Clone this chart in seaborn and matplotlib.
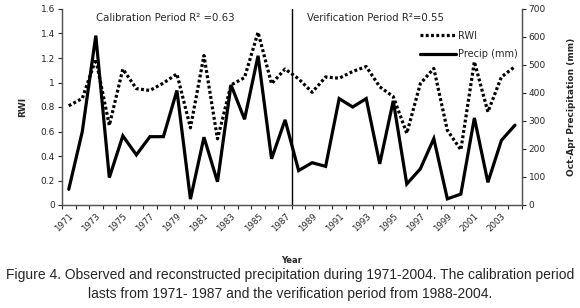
import numpy as np
import pandas as pd
import matplotlib
matplotlib.use("Agg")
import matplotlib.pyplot as plt
import seaborn as sns

years = list(range(1971, 2005))
rwi = [0.81, 0.87, 1.19, 0.65, 1.11, 0.95, 0.935, 0.995, 1.07, 0.63, 1.22, 0.54,
       0.98, 1.04, 1.41, 0.99, 1.11, 1.03, 0.92, 1.045, 1.035, 1.09, 1.13, 0.965,
       0.885, 0.585, 0.99, 1.115, 0.61, 0.45, 1.17, 0.76, 1.045, 1.13]
precip = [56, 262, 605, 98, 247, 179, 244, 244, 409, 21, 242, 83,
          429, 306, 533, 165, 304, 123, 151, 138, 380, 350, 380, 147,
          372, 75, 129, 237, 22, 39, 311, 81, 231, 285]
label_years = list(range(1971, 2005, 2))

df = pd.DataFrame({"Year": years, "RWI": rwi, "Precip": precip})

sns.set_style("white")
plt.rcParams['font.family'] = ['DejaVu Sans']

fig = plt.figure(figsize=(5.8, 3.08), dpi=100)
ax = fig.add_axes([62/580, 1 - 205/308, (521.7-62)/580, (205-9)/308])
ax2 = ax.twinx()

sns.lineplot(data=df, x="Year", y="RWI", ax=ax, color="black", lw=2.3,
             linestyle=(0, (0.9, 0.75)), label="RWI", legend=False)
sns.lineplot(data=df, x="Year", y="Precip", ax=ax2, color="black", lw=2.3,
             label="Precip (mm)", legend=False)
ax2.lines[0].set_solid_joinstyle("miter")

ax.set_xlim(1970.5, 2004.5)
ax.set_ylim(0, 1.6)
ax2.set_ylim(0, 700)
ax.set_yticks(np.arange(0, 1.61, 0.2))
ax.set_yticklabels(["0", "0.2", "0.4", "0.6", "0.8", "1", "1.2", "1.4", "1.6"])
ax2.set_yticks(range(0, 701, 100))

ax.set_xticks(np.arange(1970.5, 2005, 1.0))
ax.set_xticklabels([])
ax.set_xticks(label_years, minor=True)
ax.set_xticklabels([str(y) for y in label_years], minor=True, rotation=45,
                   ha="right", rotation_mode="anchor", fontsize=6.2)
ax.tick_params(axis="x", which="major", length=3, width=0.8, direction="out", bottom=True)
ax.tick_params(axis="x", which="minor", length=0, pad=5)
ax.tick_params(axis="y", length=3, width=0.8, direction="out", labelsize=6.5, left=True, pad=2)
ax2.tick_params(axis="y", length=3, width=0.8, direction="out", labelsize=6.5, right=True, pad=2)

for a in (ax, ax2):
    a.spines["top"].set_visible(False)
    for s in ("left", "right", "bottom"):
        a.spines[s].set_color("#555555")
        a.spines[s].set_linewidth(0.9)

ax.axvline(1987.5, color="black", lw=1.0)

ax.set_xlabel("Year", fontsize=6, fontweight="bold", labelpad=16)
ax.set_ylabel("RWI", fontsize=6.5, fontweight="bold", labelpad=10)
ax2.set_ylabel("Oct-Apr Precipitation (mm)", fontsize=6.5, fontweight="bold", labelpad=15)

ax.text(0.073, 0.982, "Calibration Period R² =0.63", transform=ax.transAxes,
        fontsize=7.3, va="top", ha="left")
ax.text(0.532, 0.982, "Verification Period R²=0.55", transform=ax.transAxes,
        fontsize=7.3, va="top", ha="left")

h1, l1 = ax.get_legend_handles_labels()
h2, l2 = ax2.get_legend_handles_labels()
ax2.legend(h1 + h2, ["RWI", "Precip (mm)"], loc="upper left",
           bbox_to_anchor=(0.77, 0.91), frameon=False, fontsize=7,
           handlelength=3.7, handletextpad=0.2, labelspacing=0.9, borderaxespad=0)

fig.text(0.5, 1 - 275/308, "Figure 4. Observed and reconstructed precipitation during 1971-2004. The calibration period",
         ha="center", va="center", fontsize=10, family="Liberation Sans")
fig.text(0.5, 1 - 294/308, "lasts from 1971- 1987 and the verification period from 1988-2004.",
         ha="center", va="center", fontsize=10, family="Liberation Sans")

fig.savefig("out.png", dpi=100)
